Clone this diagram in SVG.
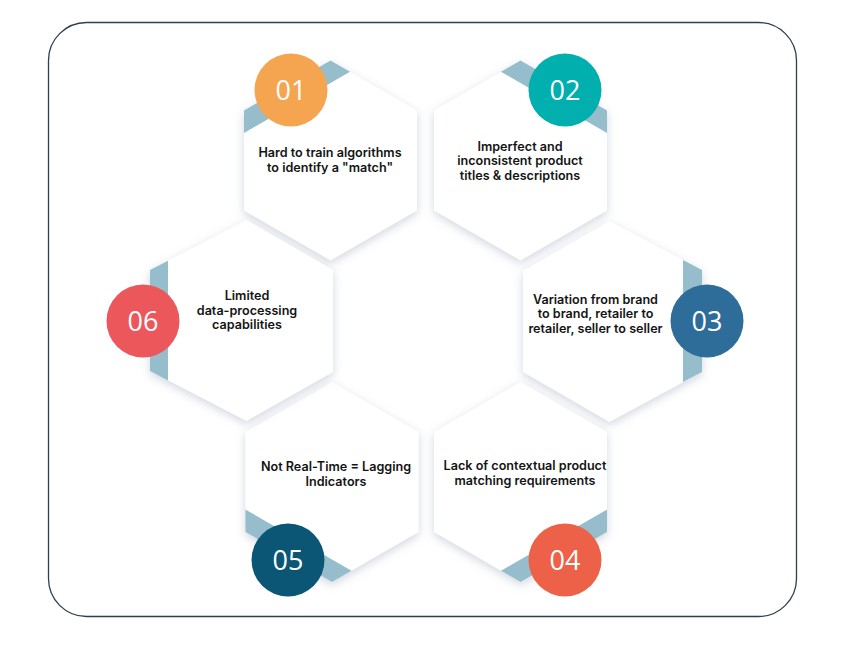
<svg xmlns="http://www.w3.org/2000/svg" width="849" height="648" viewBox="0 0 849 648">
<defs>
<filter id="sh" x="-20%" y="-20%" width="140%" height="140%">
<feDropShadow dx="0" dy="3" stdDeviation="5" flood-color="#8d97ad" flood-opacity="0.4"/>
</filter>
</defs>
<style>
.hex{fill:#ffffff;filter:url(#sh)}
.band{fill:#96bdcb}
.num{font-family:"Open Sans","Liberation Sans",sans-serif;font-size:27px;fill:#ffffff;text-anchor:middle}
.lbl{font-family:Inter,"Liberation Sans",sans-serif;font-weight:600;font-size:12.6px;fill:#141414;text-anchor:middle}
</style>
<rect x="48.5" y="22.5" width="748" height="594" rx="38" ry="38" fill="#ffffff" stroke="#2e3f4f" stroke-width="1.3"/>
<g id="connectors"/>
<g id="node01">
<polygon class="hex" points="330.5,60.5 417,110.5 417,210.5 330.5,260.5 244,210.5 244,110.5"/>
<polygon class="band" points="244,110.5 330.5,60.5 350,71.8 244,133"/>
<circle cx="291" cy="90" r="36.5" fill="#f5a54f"/>
<text class="num" x="291" y="99.5">01</text>
<text class="lbl" x="330" y="157">Hard to train algorithms</text>
<text class="lbl" x="330" y="171.5">to identify a "match"</text>
</g>
<g id="node02">
<polygon class="hex" points="520.5,60.5 607,110.5 607,210.5 520.5,260.5 434,210.5 434,110.5"/>
<polygon class="band" points="607,110.5 520.5,60.5 501,71.8 607,133"/>
<circle cx="565" cy="90" r="36.5" fill="#01afaf"/>
<text class="num" x="565" y="99.5">02</text>
<text class="lbl" x="520" y="150.5">Imperfect and</text>
<text class="lbl" x="520" y="165">inconsistent product</text>
<text class="lbl" x="520" y="179.5">titles &amp; descriptions</text>
</g>
<g id="node03">
<polygon class="hex" points="609.5,221 702,270 702,372 609.5,422 523,372 523,271"/>
<polygon class="band" points="683,260 702,270 702,372 683,382"/>
<circle cx="707" cy="321" r="36.5" fill="#2e6c99"/>
<text class="num" x="707" y="330.5">03</text>
<text class="lbl" x="595.5" y="303.5">Variation from brand</text>
<text class="lbl" x="595.5" y="318">to brand, retailer to</text>
<text class="lbl" x="595.5" y="332.5">retailer, seller to seller</text>
</g>
<g id="node04">
<polygon class="hex" points="520.5,382 607,432 607,532 520.5,582 434,532 434,432"/>
<polygon class="band" points="607,509.5 501,570.7 520.5,582 607,532"/>
<circle cx="565" cy="560" r="36.5" fill="#ec6147"/>
<text class="num" x="565" y="569.5">04</text>
<text class="lbl" x="525" y="470">Lack of contextual product</text>
<text class="lbl" x="525" y="484.5">matching requirements</text>
</g>
<g id="node05">
<polygon class="hex" points="332,382 418.6,432 418.6,532 332,582 245.4,532 245.4,432"/>
<polygon class="band" points="245.4,509.5 351.5,570.7 332,582 245.4,532"/>
<circle cx="288" cy="560" r="36.5" fill="#0b5675"/>
<text class="num" x="288" y="569.5">05</text>
<text class="lbl" x="336" y="471">Not Real-Time = Lagging</text>
<text class="lbl" x="336" y="485.5">Indicators</text>
</g>
<g id="node06">
<polygon class="hex" points="246.5,220 333,270 333,372 246.5,421 150,371 150,270"/>
<polygon class="band" points="150,270 168,260.7 168,380.5 150,371"/>
<circle cx="143" cy="321" r="36.5" fill="#ec575c"/>
<text class="num" x="143" y="330.5">06</text>
<text class="lbl" x="247" y="300">Limited</text>
<text class="lbl" x="247" y="314.5">data-processing</text>
<text class="lbl" x="247" y="329">capabilities</text>
</g>
</svg>
